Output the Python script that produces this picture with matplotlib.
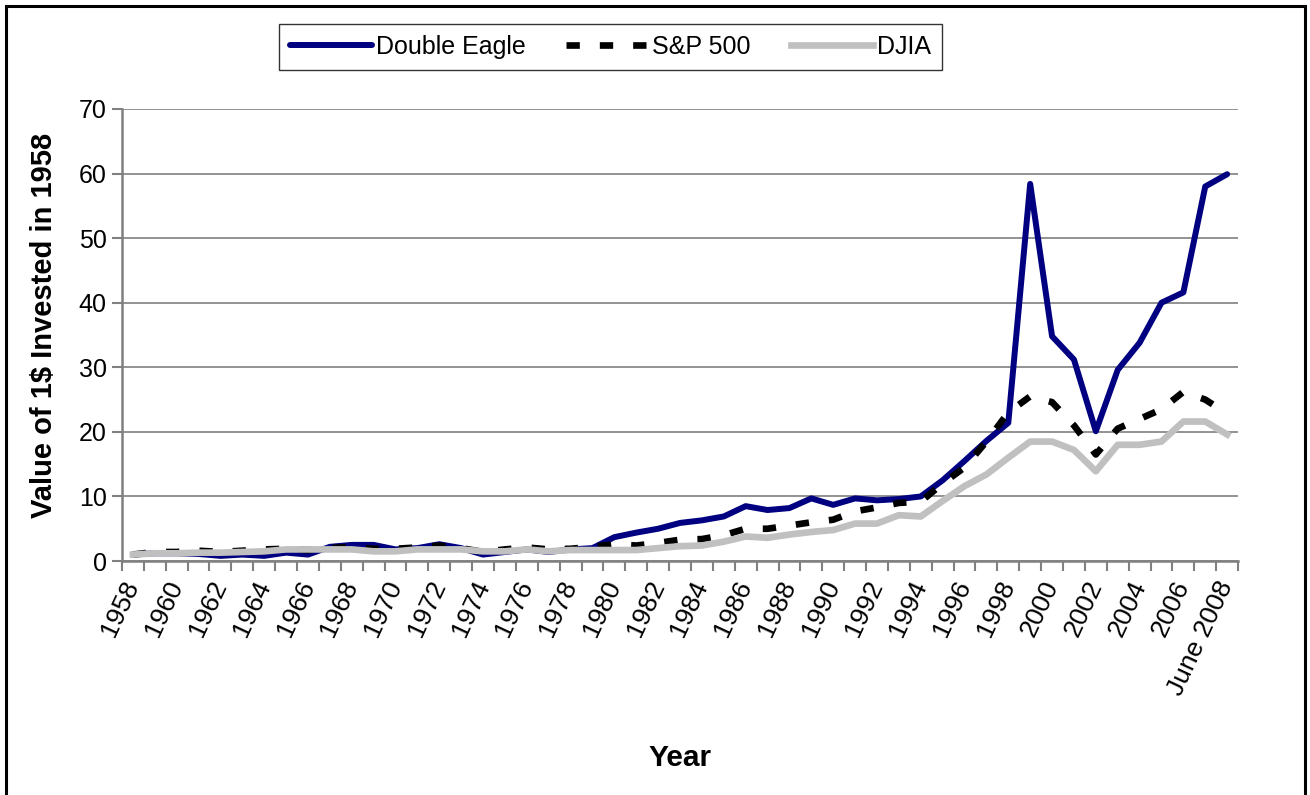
import matplotlib
matplotlib.use("Agg")
import matplotlib.pyplot as plt
from matplotlib.patches import Rectangle
import numpy as np

plt.rcParams["font.family"] = ["Liberation Sans", "DejaVu Sans"]

# ── Data ──────────────────────────────────────────────────────────────────────
categories = [str(y) for y in range(1958, 2008)] + ["June 2008"]

double_eagle = [1.0, 1.2, 1.2, 1.1, 0.8, 1.0, 0.8, 1.3, 1.0, 2.2,
                2.5, 2.5, 1.8, 2.0, 2.6, 2.0, 1.0, 1.4, 1.8, 1.4,
                1.8, 2.0, 3.7, 4.4, 5.0, 5.9, 6.3, 6.9, 8.5, 7.9,
                8.2, 9.7, 8.7, 9.7, 9.4, 9.6, 10.0, 12.5, 15.5, 18.6,
                21.4, 58.4, 34.8, 31.2, 20.1, 29.6, 33.8, 40.0, 41.6, 58.0,
                59.9]
sp500 = [1.0, 1.4, 1.4, 1.6, 1.4, 1.6, 1.8, 1.9, 1.7, 2.0,
         2.2, 1.9, 1.9, 2.1, 2.4, 2.0, 1.4, 1.8, 2.1, 1.8,
         1.9, 2.2, 2.6, 2.4, 2.8, 3.3, 3.4, 4.0, 5.0, 5.0,
         5.5, 6.0, 6.4, 7.7, 8.3, 9.0, 9.2, 12.0, 14.5, 18.5,
         23.0, 25.5, 24.6, 21.0, 16.5, 20.5, 22.0, 23.5, 26.2, 25.0,
         22.8]
djia = [1.0, 1.2, 1.2, 1.3, 1.3, 1.4, 1.5, 1.8, 1.8, 1.8,
        1.8, 1.5, 1.5, 1.8, 1.8, 1.8, 1.5, 1.5, 1.8, 1.5,
        1.7, 1.7, 1.7, 1.7, 2.0, 2.3, 2.4, 3.0, 3.8, 3.6,
        4.1, 4.5, 4.8, 5.8, 5.8, 7.1, 6.9, 9.3, 11.6, 13.4,
        16.0, 18.5, 18.5, 17.2, 13.9, 18.0, 18.0, 18.5, 21.6, 21.6,
        19.6]

y_ticks = [0, 10, 20, 30, 40, 50, 60, 70]

# ── Figure ────────────────────────────────────────────────────────────────────
fig = plt.figure(figsize=(13.1, 7.95), dpi=100)
ax = fig.add_axes([0.0931, 0.2943, 0.852, 0.5686])

x = np.arange(len(categories))
ax.plot(x, double_eagle, color="#000080", lw=4.3, solid_capstyle="round",
        label="Double Eagle", zorder=3)
ax.plot(x, sp500, color="black", lw=4.8, dashes=(2.0, 3.0),
        dash_capstyle="butt", label="S&P 500", zorder=4)
ax.plot(x, djia, color="#C0C0C0", lw=4.8, label="DJIA", zorder=5)

ax.set_xlim(-0.5, len(categories) - 0.5)
ax.set_ylim(0, 70)
ax.set_yticks(y_ticks)
ax.yaxis.grid(True, color="#808080", lw=1.2)
ax.set_axisbelow(True)

# category labels every other year, ticks at category boundaries
ax.set_xticks(x[::2])
ax.set_xticklabels(categories[::2], rotation=65, ha="right", va="center",
                   rotation_mode="anchor", fontsize=19)
ax.tick_params(axis="x", length=0, pad=15)
ax.set_xticks(np.arange(len(categories) + 1) - 0.5, minor=True)
ax.tick_params(axis="x", which="minor", length=7, width=1.5, color="#808080",
               direction="out")
ax.tick_params(axis="y", length=7, width=1.5, color="#808080",
               labelsize=18, pad=4)

for side in ["top", "right"]:
    ax.spines[side].set_visible(False)
for side in ["left", "bottom"]:
    ax.spines[side].set_color("#808080")
    ax.spines[side].set_linewidth(1.8)

ax.set_ylabel("Value of 1$ Invested in 1958", fontsize=21, fontweight="bold")
ax.yaxis.set_label_coords(-0.057, 0.522)
fig.text(0.519, 0.047, "Year", fontsize=21.5, fontweight="bold",
         ha="center", va="center")

leg = fig.legend(loc="center", bbox_to_anchor=(0.466, 0.9409), ncol=3,
                 fontsize=18, frameon=True, fancybox=False, handlelength=3.3,
                 handletextpad=0.15, columnspacing=1.6, borderpad=0.45)
leg.get_frame().set_edgecolor("black")
leg.get_frame().set_linewidth(1.0)

# outer chart border (bottom edge falls outside the image)
fig.patches.append(Rectangle((6 / 1310, -0.05), 1299 / 1310, 1.05 - 6 / 795,
                             transform=fig.transFigure, fill=False,
                             edgecolor="black", lw=2.2))

fig.savefig("out.png", dpi=100)
